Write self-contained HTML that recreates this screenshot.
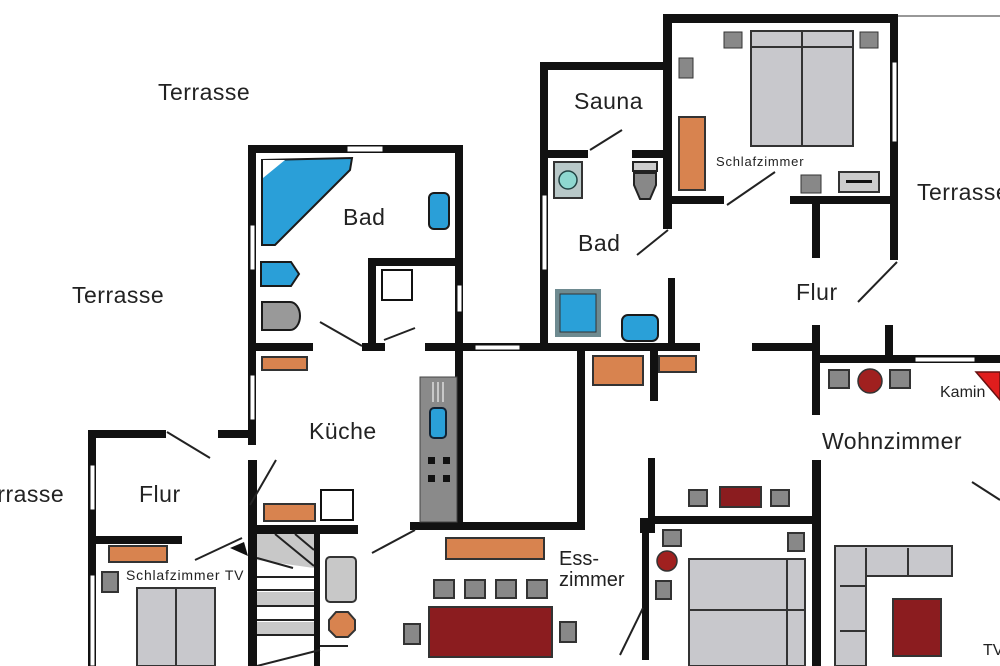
<!DOCTYPE html>
<html><head><meta charset="utf-8"><style>
html,body{margin:0;padding:0;background:#fff;}
svg{display:block;}
text{font-family:"Liberation Sans",sans-serif;fill:#222;}
</style></head><body>
<svg width="1000" height="666" viewBox="0 0 1000 666" xmlns="http://www.w3.org/2000/svg">
<rect width="1000" height="666" fill="#fff"/>
<line x1="898" y1="16" x2="1000" y2="16" stroke="#777" stroke-width="1.5"/>
<g fill="#111">
<rect x="248" y="145" width="215" height="8"/>
<rect x="248" y="145" width="8" height="300"/>
<rect x="455" y="145" width="8" height="385"/>
<rect x="248" y="343" width="65" height="8"/>
<rect x="362" y="343" width="23" height="8"/>
<rect x="425" y="343" width="275" height="8"/>
<rect x="368" y="258" width="8" height="92"/>
<rect x="368" y="258" width="90" height="8"/>
<rect x="218" y="430" width="38" height="8"/>
<rect x="577" y="343" width="8" height="187"/>
<rect x="410" y="522" width="175" height="8"/>
<rect x="248" y="525" width="110" height="9"/>
<rect x="248" y="460" width="9" height="206"/>
<rect x="314" y="530" width="6" height="136"/>
<rect x="540" y="62" width="130" height="8"/>
<rect x="540" y="62" width="8" height="289"/>
<rect x="548" y="150" width="40" height="8"/>
<rect x="632" y="150" width="38" height="8"/>
<rect x="663" y="14" width="9" height="215"/>
<rect x="668" y="278" width="7" height="73"/>
<rect x="650" y="351" width="8" height="50"/>
<rect x="663" y="14" width="235" height="9"/>
<rect x="890" y="14" width="8" height="246"/>
<rect x="672" y="196" width="52" height="8"/>
<rect x="790" y="196" width="106" height="8"/>
<rect x="812" y="200" width="8" height="58"/>
<rect x="752" y="343" width="68" height="8"/>
<rect x="812" y="325" width="8" height="90"/>
<rect x="885" y="325" width="8" height="35"/>
<rect x="818" y="355" width="182" height="8"/>
<rect x="812" y="460" width="9" height="206"/>
<rect x="648" y="516" width="167" height="8"/>
<rect x="648" y="458" width="7" height="62"/>
<rect x="640" y="518" width="15" height="15"/>
<rect x="642" y="520" width="7" height="140"/>
<rect x="88" y="430" width="78" height="8"/>
<rect x="88" y="430" width="8" height="236"/>
<rect x="96" y="536" width="86" height="8"/>
</g>
<g fill="#fff" stroke="#111" stroke-width="1">
<rect x="347" y="146" width="36" height="6"/>
<rect x="250" y="225" width="5" height="45"/>
<rect x="250" y="375" width="5" height="45"/>
<rect x="457" y="285" width="5" height="27"/>
<rect x="475" y="345" width="45" height="5"/>
<rect x="542" y="195" width="5" height="75"/>
<rect x="892" y="62" width="5" height="80"/>
<rect x="915" y="357" width="60" height="5"/>
<rect x="90" y="465" width="5" height="45"/>
<rect x="90" y="575" width="5" height="91"/>
</g>
<g stroke="#222" stroke-width="2" fill="none">
<line x1="320" y1="322" x2="362" y2="346"/>
<line x1="384" y1="340" x2="415" y2="328"/>
<line x1="590" y1="150" x2="622" y2="130"/>
<line x1="637" y1="255" x2="668" y2="230"/>
<line x1="727" y1="205" x2="775" y2="172"/>
<line x1="858" y1="302" x2="897" y2="262"/>
<line x1="167" y1="432" x2="210" y2="458"/>
<line x1="250" y1="505" x2="276" y2="460"/>
<line x1="195" y1="560" x2="242" y2="538"/>
<line x1="372" y1="553" x2="415" y2="530"/>
<line x1="620" y1="655" x2="643" y2="608"/>
<line x1="972" y1="482" x2="1000" y2="500"/>
</g>
<polygon points="262,160 352,158 350,170 275,245 262,245" fill="#2a9fd8" stroke="#1a1a1a" stroke-width="2"/>
<polygon points="263,160 285,160 263,178" fill="#fff"/>
<rect x="429" y="193" width="20" height="36" rx="5" fill="#2a9fd8" stroke="#1a1a1a" stroke-width="2"/>
<path d="M261,262 h30 l8,12 l-8,12 h-30 z" fill="#2a9fd8" stroke="#1a1a1a" stroke-width="2"/>
<path d="M262,302 h28 a10,14 0 0 1 0,28 h-28 z" fill="#999" stroke="#1a1a1a" stroke-width="2"/>
<rect x="382" y="270" width="30" height="30" fill="#fff" stroke="#111" stroke-width="2"/>
<rect x="554" y="162" width="28" height="36" fill="#b8c8c8" stroke="#333" stroke-width="2"/>
<circle cx="568" cy="180" r="9" fill="#8ed8d0" stroke="#244" stroke-width="1.5"/>
<rect x="633" y="162" width="24" height="9" fill="#ccc" stroke="#222" stroke-width="2"/>
<path d="M634,173 h22 v12 l-6,14 h-10 l-6,-14 z" fill="#888" stroke="#222" stroke-width="2"/>
<rect x="555" y="289" width="46" height="48" fill="#6e8a90"/>
<rect x="560" y="294" width="36" height="38" fill="#2aa0d8" stroke="#333"/>
<rect x="622" y="315" width="36" height="26" rx="6" fill="#2aa0d8" stroke="#1a1a1a" stroke-width="2"/>
<rect x="751" y="31" width="102" height="115" fill="#c8c8cc" stroke="#333" stroke-width="2"/>
<line x1="751" y1="47" x2="853" y2="47" stroke="#333" stroke-width="2"/>
<line x1="802" y1="31" x2="802" y2="146" stroke="#333" stroke-width="2"/>
<rect x="724" y="32" width="18" height="16" fill="#888" stroke="#333"/>
<rect x="860" y="32" width="18" height="16" fill="#888" stroke="#333"/>
<rect x="679" y="58" width="14" height="20" fill="#888" stroke="#333"/>
<rect x="679" y="117" width="26" height="73" fill="#d8834f" stroke="#333" stroke-width="2"/>
<rect x="801" y="175" width="20" height="18" fill="#888" stroke="#333"/>
<rect x="839" y="172" width="40" height="20" fill="#ccc" stroke="#333" stroke-width="2"/>
<rect x="846" y="180" width="26" height="3" fill="#111"/>
<g fill="#d8834f" stroke="#333" stroke-width="2">
<rect x="262" y="357" width="45" height="13"/>
<rect x="593" y="356" width="50" height="29"/>
<rect x="659" y="356" width="37" height="16"/>
<rect x="264" y="504" width="51" height="17"/>
<rect x="446" y="538" width="98" height="21"/>
<rect x="109" y="546" width="58" height="16"/>
</g>
<rect x="321" y="490" width="32" height="30" fill="#fff" stroke="#111" stroke-width="2"/>
<rect x="420" y="377" width="37" height="145" fill="#8a8a8a" stroke="#444"/>
<rect x="430" y="408" width="16" height="30" rx="4" fill="#2aa0d8" stroke="#123" stroke-width="2"/>
<g fill="#111"><rect x="428" y="457" width="7" height="7"/><rect x="443" y="457" width="7" height="7"/><rect x="428" y="475" width="7" height="7"/><rect x="443" y="475" width="7" height="7"/></g>
<g stroke="#ddd" stroke-width="1.5"><line x1="433" y1="382" x2="433" y2="402"/><line x1="438" y1="382" x2="438" y2="402"/><line x1="443" y1="382" x2="443" y2="402"/></g>
<rect x="257" y="534" width="57" height="132" fill="#fff"/>
<polygon points="257,534 314,534 314,568 257,560" fill="#c8c8c8"/>
<g fill="#c8c8c8"><rect x="257" y="592" width="57" height="13"/><rect x="257" y="622" width="57" height="12"/></g>
<g stroke="#222" stroke-width="2">
<line x1="257" y1="577" x2="314" y2="577"/><line x1="257" y1="590" x2="314" y2="590"/>
<line x1="257" y1="606" x2="314" y2="606"/><line x1="257" y1="620" x2="314" y2="620"/>
<line x1="257" y1="635" x2="314" y2="635"/>
<line x1="275" y1="534" x2="314" y2="566"/><line x1="295" y1="534" x2="314" y2="550"/>
<line x1="257" y1="558" x2="293" y2="568"/>
<line x1="257" y1="666" x2="320" y2="650"/><line x1="320" y1="646" x2="348" y2="646"/>
</g>
<rect x="326" y="557" width="30" height="45" rx="4" fill="#c8c8c8" stroke="#333" stroke-width="2"/>
<polygon points="336,612 348,612 355,620 355,630 348,637 336,637 329,630 329,620" fill="#d8834f" stroke="#333" stroke-width="2"/>
<path d="M230,548 l14,-6 l4,14 z" fill="#111"/>
<g fill="#888" stroke="#333" stroke-width="2">
<rect x="434" y="580" width="20" height="18"/><rect x="465" y="580" width="20" height="18"/>
<rect x="496" y="580" width="20" height="18"/><rect x="527" y="580" width="20" height="18"/>
<rect x="404" y="624" width="16" height="20"/><rect x="560" y="622" width="16" height="20"/>
<rect x="102" y="572" width="16" height="20"/>
<rect x="689" y="490" width="18" height="16"/><rect x="771" y="490" width="18" height="16"/>
<rect x="663" y="530" width="18" height="16"/><rect x="788" y="533" width="16" height="18"/>
<rect x="656" y="581" width="15" height="18"/>
<rect x="829" y="370" width="20" height="18"/><rect x="890" y="370" width="20" height="18"/>
</g>
<rect x="429" y="607" width="123" height="50" fill="#8b1c1f" stroke="#333" stroke-width="2"/>
<rect x="720" y="487" width="41" height="20" fill="#8b1c1f" stroke="#333" stroke-width="2"/>
<circle cx="667" cy="561" r="10" fill="#a0201f" stroke="#333" stroke-width="1.5"/>
<circle cx="870" cy="381" r="12" fill="#a0201f" stroke="#333" stroke-width="1.5"/>
<polygon points="976,372 1000,372 1000,400" fill="#e01d1d" stroke="#611" stroke-width="1.5"/>
<rect x="689" y="559" width="116" height="107" fill="#c8c8cc" stroke="#333" stroke-width="2"/>
<line x1="689" y1="610" x2="805" y2="610" stroke="#333" stroke-width="2"/>
<line x1="787" y1="559" x2="787" y2="666" stroke="#333" stroke-width="2"/>
<rect x="137" y="588" width="78" height="78" fill="#c8c8cc" stroke="#333" stroke-width="2"/>
<line x1="176" y1="588" x2="176" y2="666" stroke="#333" stroke-width="2"/>
<path d="M835,546 h117 v30 h-86 v90 h-31 z" fill="#c8c8cc" stroke="#333" stroke-width="2"/>
<line x1="866" y1="548" x2="866" y2="578" stroke="#333" stroke-width="2"/>
<line x1="908" y1="548" x2="908" y2="576" stroke="#333" stroke-width="2"/>
<line x1="840" y1="586" x2="866" y2="586" stroke="#333" stroke-width="2"/>
<line x1="840" y1="631" x2="866" y2="631" stroke="#333" stroke-width="2"/>
<rect x="893" y="599" width="48" height="57" fill="#8b1c1f" stroke="#333" stroke-width="2"/>
<g font-size="23" letter-spacing="0.5">
<text x="158" y="100">Terrasse</text>
<text x="72" y="303">Terrasse</text>
<text x="-28" y="502">Terrasse</text>
<text x="917" y="200">Terrasse</text>
<text x="343" y="225">Bad</text>
<text x="578" y="251">Bad</text>
<text x="574" y="109">Sauna</text>
<text x="309" y="439">Küche</text>
<text x="139" y="502">Flur</text>
<text x="796" y="300">Flur</text>
<text x="822" y="449">Wohnzimmer</text>
</g>
<text x="559" y="565" font-size="20">Ess-</text>
<text x="559" y="586" font-size="20">zimmer</text>
<text x="716" y="166" font-size="13" letter-spacing="0.8">Schlafzimmer</text>
<text x="126" y="580" font-size="14" letter-spacing="0.8">Schlafzimmer TV</text>
<text x="940" y="397" font-size="16">Kamin</text>
<text x="983" y="655" font-size="16">TV</text>
</svg>
</body></html>
